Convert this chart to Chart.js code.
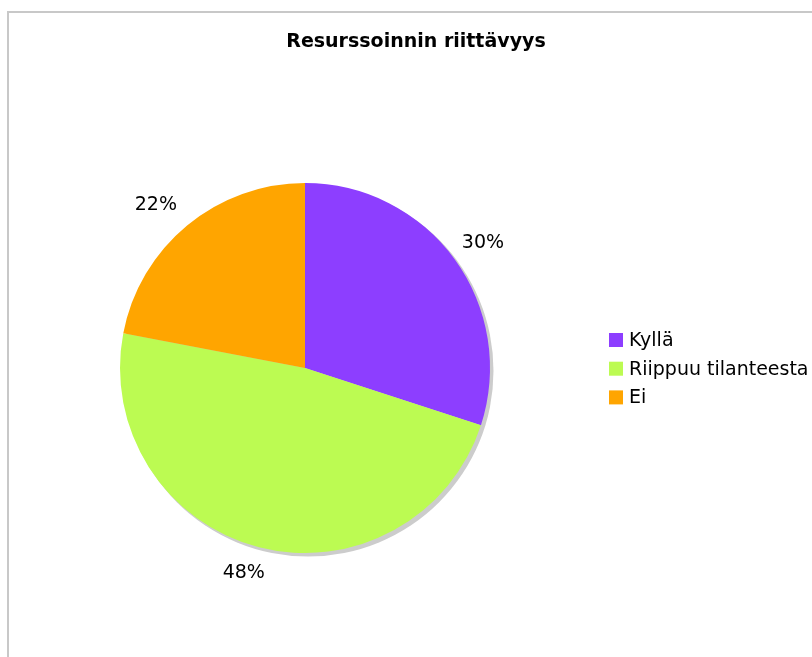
<!DOCTYPE html>
<html>
<head>
<meta charset="utf-8">
<script src="https://cdn.jsdelivr.net/npm/chart.js@4"></script>
<style>
  html, body { margin: 0; padding: 0; background: #fff; }
  #wrap { width: 812px; height: 657px; }
</style>
</head>
<body>
<div id="wrap"><canvas id="pieChart" width="812" height="657"></canvas></div>
<script>
// Resurssoinnin riittävyys - pie
const chartTitle = 'Resurssoinnin riittävyys';
const labels = ['Kyllä', 'Riippuu tilanteesta', 'Ei'];
const values = [30, 48, 22];
const colors = ['#8d3eff', '#bcfb52', '#ffa500'];

// frame, shadow, title, legend and outside % labels
const decorPlugin = {
    id: 'decor',
    beforeDatasetsDraw(chart) {
        const ctx = chart.ctx;
        const arc = chart.getDatasetMeta(0).data[0];
        if (!arc) return;
        ctx.save();
        ctx.fillStyle = '#cccccc';
        ctx.beginPath();
        ctx.arc(arc.x + 3, arc.y + 3, arc.outerRadius + 0.5, 0, Math.PI * 2);
        ctx.fill();
        ctx.restore();
    },
    afterDraw(chart) {
        const ctx = chart.ctx;
        ctx.save();

        // frame lines
        ctx.strokeStyle = '#c8c8c8';
        ctx.lineWidth = 2;
        ctx.beginPath();
        ctx.moveTo(8, 657);
        ctx.lineTo(8, 12);
        ctx.lineTo(812, 12);
        ctx.stroke();

        // title (squeezed a bit, the original font is narrower)
        ctx.fillStyle = '#000';
        ctx.font = 'bold 19px "DejaVu Sans", sans-serif';
        ctx.textAlign = 'center';
        ctx.textBaseline = 'middle';
        const tw = ctx.measureText(chartTitle).width;
        const sx = Math.min(1, 262 / tw);
        ctx.save();
        ctx.translate(416, 42);
        ctx.scale(sx, 1);
        ctx.fillText(chartTitle, 0, 0);
        ctx.restore();

        // percentage labels
        const meta = chart.getDatasetMeta(0);
        const total = values.reduce((a, b) => a + b, 0);
        ctx.font = '19px "DejaVu Sans", sans-serif';
        meta.data.forEach((a, i) => {
            const txt = Math.round(values[i] / total * 100) + '%';
            const w = ctx.measureText(txt).width;
            const mid = (a.startAngle + a.endAngle) / 2;
            const dx = Math.cos(mid), dy = Math.sin(mid);
            const r = a.outerRadius + 20;
            const x = a.x + dx * r + dx * w / 2 - 5;
            const y = a.y + dy * r + dy * 7;
            ctx.fillText(txt, x, y);
        });

        // legend
        ctx.textAlign = 'left';
        labels.forEach((lab, i) => {
            const y = 340 + i * 28.7;
            ctx.fillStyle = colors[i];
            ctx.fillRect(609, y - 7, 14, 14);
            ctx.fillStyle = '#000';
            ctx.fillText(lab, 629, y + 1);
        });
        ctx.restore();
    }
};

new Chart(document.getElementById('pieChart').getContext('2d'), {
    type: 'pie',
    data: {
        labels,
        datasets: [{
            data: values,
            backgroundColor: colors,
            borderWidth: 0,
            hoverOffset: 0
        }]
    },
    options: {
        responsive: false,
        animation: false,
        events: [],
        layout: { padding: { left: 120, right: 322, top: 183, bottom: 104 } },
        plugins: {
            legend: { display: false },
            title: { display: false },
            tooltip: { enabled: false }
        }
    },
    plugins: [decorPlugin]
});
</script>
</body>
</html>
